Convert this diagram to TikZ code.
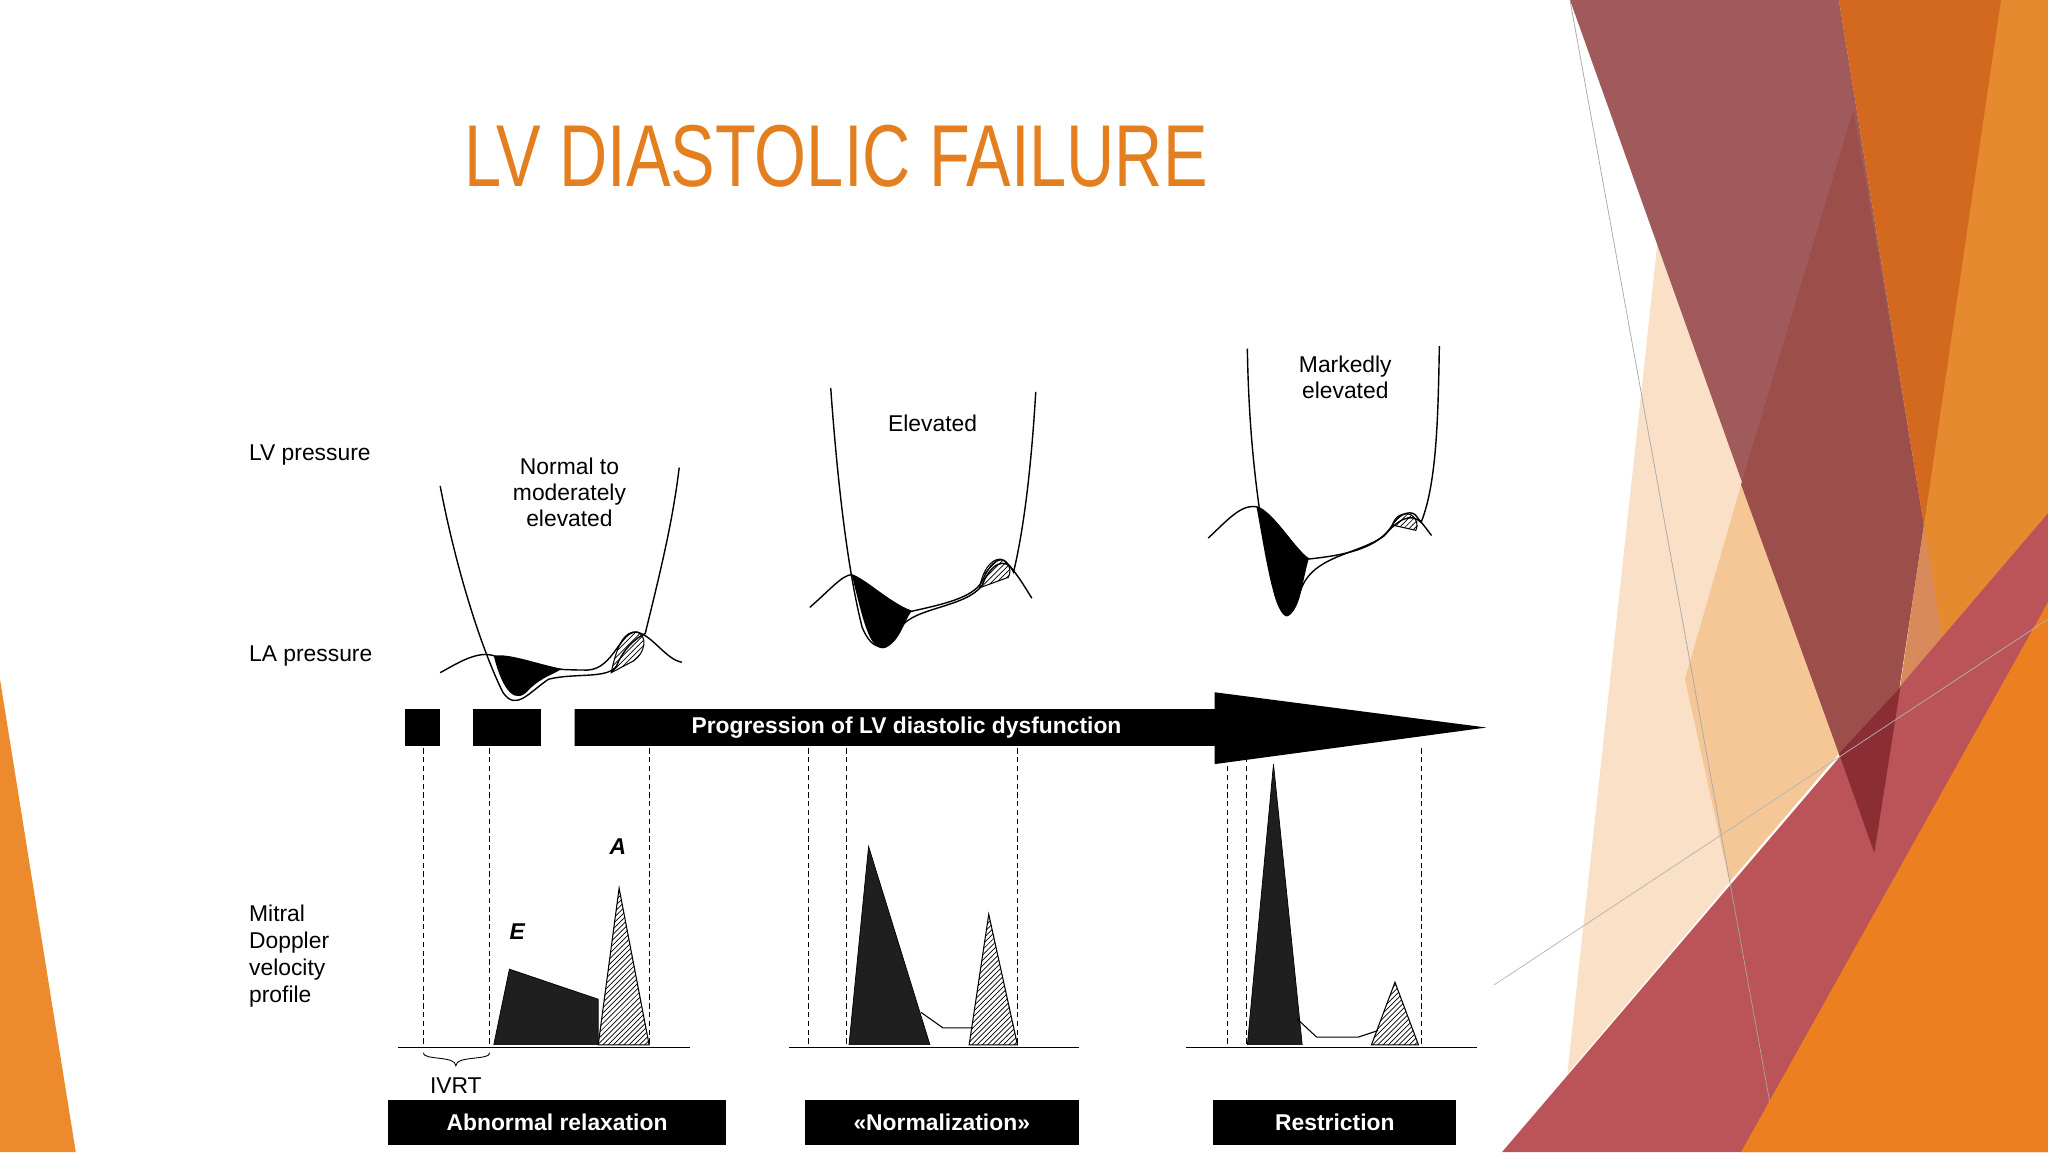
\documentclass[tikz,border=0pt]{standalone}
\usepackage{fontspec}
\setmainfont{Liberation Sans}
\usetikzlibrary{patterns}
\definecolor{ttl}{HTML}{E37F1E}
\definecolor{rbrown}{HTML}{A05A5C}
\definecolor{rbrown2}{HTML}{9C4E4A}
\definecolor{org}{HTML}{D2691E}
\definecolor{org2}{HTML}{E68A30}
\definecolor{org3}{HTML}{EC8020}
\definecolor{peach}{HTML}{F6C796}
\definecolor{lpeach}{HTML}{FAE0C6}
\definecolor{tan}{HTML}{D98A5A}
\definecolor{redd}{HTML}{BB5458}
\definecolor{dred}{HTML}{8A2E33}
\definecolor{lorg}{HTML}{EE8A2E}
\tikzset{
 lbl/.style={font=\fontsize{13}{15}\selectfont, align=left, anchor=west},
 captxt/.style={font=\fontsize{13}{15}\selectfont, align=center},
 blackbox/.style={fill=black, text=white, font=\bfseries\fontsize{13}{15}\selectfont},
 vdash/.style={densely dashed, line width=0.5pt},
 curve/.style={line width=0.8pt},
 hatch/.style={pattern=north east lines, draw=black, line width=0.6pt},
}
\begin{document}
\begin{tikzpicture}[x=0.02612cm, y=-0.02612cm]
\useasboundingbox (0,0) rectangle (1568,882);
\fill[white] (0,0) rectangle (1568,882);
% background decorations
\fill[lorg] (0,520) -- (58,882) -- (0,882) -- cycle;
\fill[lpeach] (1269,186) -- (1408,577) -- (1200,822) -- cycle;
\fill[peach] (1333,371) -- (1408,577) -- (1324,675) -- (1290,520) -- cycle;
\fill[rbrown] (1202,0) -- (1408,0) -- (1473,402) -- (1435,653) -- cycle;
\fill[rbrown2] (1419,84) -- (1473,402) -- (1435,653) -- (1408,577) -- (1333,371) -- cycle;
\fill[org2] (1408,0) -- (1568,0) -- (1568,882) -- (1427,715) -- (1473,402) -- cycle;
\fill[org] (1408,0) -- (1532,0) -- (1473,402) -- cycle;
\fill[tan] (1473,402) -- (1502,582) -- (1446,681) -- (1427,715) -- (1455,526) -- cycle;
\fill[redd] (1150,882) -- (1568,393) -- (1568,882) -- cycle;
\fill[dred] (1408,577) -- (1455,526) -- (1435,653) -- cycle;
\fill[org3] (1333,882) -- (1568,461) -- (1568,882) -- cycle;
\draw[gray!70, line width=0.4pt] (1202,0) -- (1355,844);
\draw[gray!60, line width=0.4pt] (1144,754) -- (1568,474);
% title
\node (title) at (640,120) {\color{ttl}\scalebox{0.76}[1]{\fontsize{50}{60}\selectfont LV DIASTOLIC FAILURE}};
% left labels
\node[lbl] (lvp) at (186,348) {LV pressure};
\node[lbl] (lap) at (186,502) {LA pressure};
\node[lbl, font=\fontsize{13}{15.5}\selectfont] (mit) at (186,732) {Mitral\\Doppler\\velocity\\profile};
% panel captions
\node[captxt] (c1) at (436,377) {Normal to\\moderately\\elevated};
\node[captxt] (c2) at (714,324) {Elevated};
\node[captxt] (c3) at (1030,289) {Markedly\\elevated};
% panel 1 pressures
\fill[black] (378,502) .. controls (385,530) and (395,540) .. (405,528) .. controls (415,518) and (425,516) .. (430,512) .. controls (410,508) and (390,500) .. (378,502);
\draw[hatch] (468,515) .. controls (472,495) and (478,482) .. (488,484) .. controls (496,487) and (494,500) .. (485,506) -- cycle;
\draw[curve] (337,372) .. controls (350,440) and (370,500) .. (385,530) .. controls (395,545) and (405,530) .. (420,520) .. controls (440,515) and (465,520) .. (472,510) .. controls (478,495) and (488,488) .. (494,485) .. controls (505,440) and (515,400) .. (520,358);
\draw[curve] (337,515) .. controls (350,508) and (365,498) .. (378,502) .. controls (395,510) and (420,513) .. (450,513) .. controls (470,512) and (475,482) .. (488,484) .. controls (500,487) and (510,505) .. (522,507);
% panel 2 pressures
\fill[black] (652,440) .. controls (660,470) and (665,500) .. (678,496) .. controls (690,490) and (692,475) .. (698,468) .. controls (680,460) and (665,445) .. (652,440);
\draw[hatch] (750,450) .. controls (752,438) and (758,428) .. (766,428) .. controls (772,430) and (775,436) .. (772,442) -- cycle;
\draw[curve] (636,297) .. controls (642,380) and (650,440) .. (660,480) .. controls (668,500) and (680,500) .. (690,480) .. controls (700,465) and (740,465) .. (752,448) .. controls (758,432) and (770,425) .. (776,438) .. controls (785,400) and (790,350) .. (793,300);
\draw[curve] (620,465) .. controls (635,452) and (645,440) .. (652,440) .. controls (665,445) and (680,462) .. (698,468) .. controls (720,463) and (745,458) .. (752,445) .. controls (758,430) and (766,426) .. (770,430) .. controls (778,438) and (785,450) .. (790,458);
% panel 3 pressures
\fill[black] (962,388) .. controls (968,420) and (975,470) .. (985,472) .. controls (995,470) and (998,440) .. (1002,428) .. controls (990,418) and (975,392) .. (962,388);
\draw[hatch] (1066,402) .. controls (1068,395) and (1074,392) .. (1080,394) .. controls (1085,397) and (1086,402) .. (1084,406) -- cycle;
\draw[curve] (955,267) .. controls (956,330) and (962,390) .. (975,450) .. controls (980,475) and (990,475) .. (995,455) .. controls (1002,425) and (1040,425) .. (1060,410) .. controls (1070,398) and (1080,392) .. (1088,400) .. controls (1100,370) and (1101,320) .. (1102,265);
\draw[curve] (925,412) .. controls (940,398) and (950,386) .. (962,388) .. controls (975,392) and (990,420) .. (1002,428) .. controls (1030,425) and (1055,420) .. (1066,402) .. controls (1072,392) and (1082,390) .. (1085,396) .. controls (1090,402) and (1093,406) .. (1096,410);
% bar row
\fill[black] (310,543) rectangle (337,571);
\fill[black] (362,543) rectangle (414,571);
\fill[black] (440,543) -- (930,543) -- (930,530) -- (1138,557) -- (930,585) -- (930,571) -- (440,571) -- cycle;
\node[text=white, font=\bfseries\fontsize{13}{15}\selectfont] (prog) at (694,557) {Progression of LV diastolic dysfunction};
% dashed lines
\foreach \x in {324,375,497,619,648,779,940,954,1088} \draw[vdash] (\x,573) -- (\x,800);
% baselines
\draw[line width=0.8pt] (305,802) -- (528,802);
\draw[line width=0.8pt] (604,802) -- (826,802);
\draw[line width=0.8pt] (908,802) -- (1131,802);
% doppler panel 1
\fill[black, opacity=0.88] (378,800) -- (390,742) -- (458,765) -- (458,800) -- cycle;
\draw (378,800) -- (390,742) -- (458,765) -- (458,800);
\draw[hatch] (458,800) -- (474,680) -- (497,800) -- cycle;
\node[font=\bfseries\itshape\fontsize{13}{15}\selectfont] (E) at (396,713) {E};
\node[font=\bfseries\itshape\fontsize{13}{15}\selectfont] (A) at (473,648) {A};
\draw[line width=0.5pt] (324,806) .. controls (324,812) and (349,808) .. (349,816) .. controls (349,808) and (375,812) .. (375,806);
\node[font=\fontsize{13}{15}\selectfont] (ivrt) at (349,831) {IVRT};
% doppler panel 2
\fill[black, opacity=0.88] (650,800) -- (665,648) -- (712,800) -- cycle;
\draw (650,800) -- (665,648) -- (712,800);
\draw[line width=0.6pt] (705,775) -- (722,787) -- (745,787);
\draw[hatch] (742,800) -- (757,700) -- (779,800) -- cycle;
% doppler panel 3
\fill[black, opacity=0.88] (955,800) -- (975,585) -- (997,800) -- cycle;
\draw (955,800) -- (975,585) -- (997,800);
\draw[line width=0.6pt] (993,780) -- (1008,794) -- (1040,794) -- (1055,789);
\draw[hatch] (1050,800) -- (1068,752) -- (1086,800) -- cycle;
% bottom boxes
\node[blackbox, minimum width=259*0.02612cm, minimum height=35*0.02612cm] (b1) at (426.5,859.5) {Abnormal relaxation};
\node[blackbox, minimum width=210*0.02612cm, minimum height=35*0.02612cm] (b2) at (721,859.5) {«Normalization»};
\node[blackbox, minimum width=186*0.02612cm, minimum height=35*0.02612cm] (b3) at (1022,859.5) {Restriction};
\end{tikzpicture}
\end{document}
